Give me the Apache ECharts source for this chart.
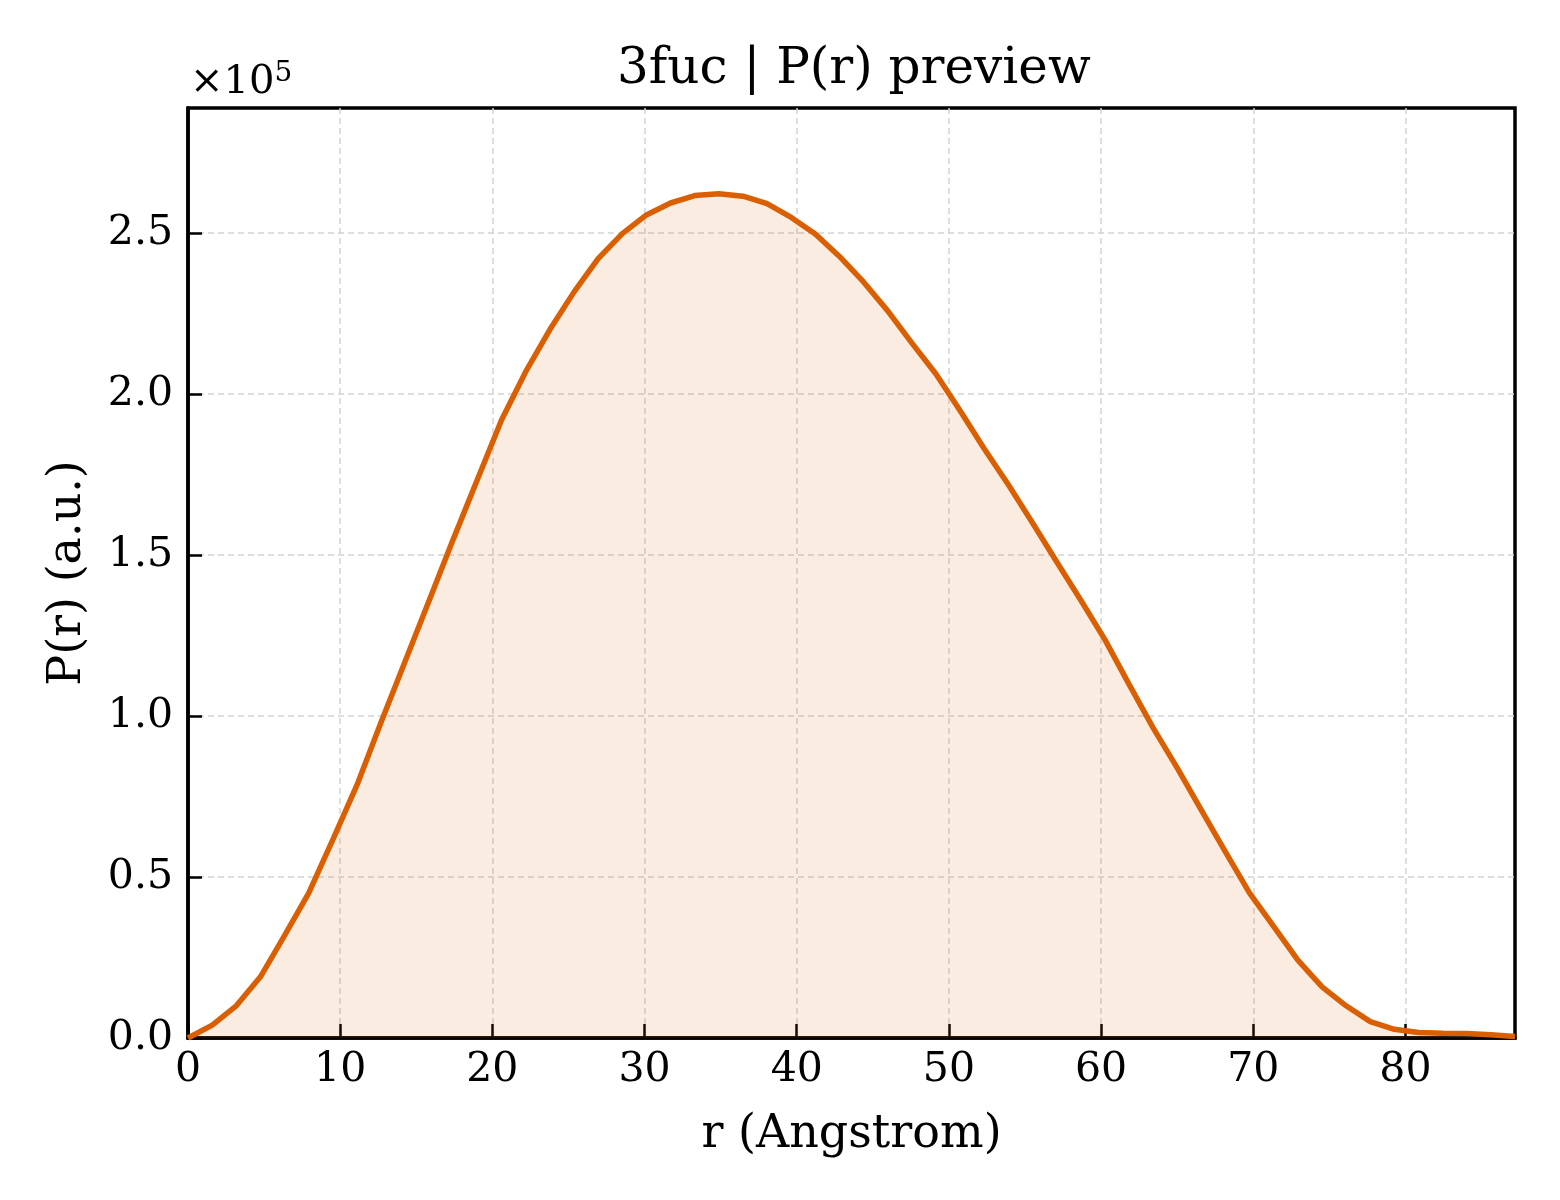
<!DOCTYPE html>
<html>
<head>
<meta charset="utf-8">
<script src="https://cdn.jsdelivr.net/npm/echarts@6/dist/echarts.min.js"></script>
<style>
  html, body { margin: 0; padding: 0; background: #fff; }
  #plot { width: 1560px; height: 1200px; }
</style>
</head>
<body>
<div id="plot"></div>
<script>
// r in Angstrom
var rVals = [0.00, 1.59, 3.17, 4.76, 6.34, 7.93, 9.51, 11.10, 12.68, 14.27,
  15.86, 17.44, 19.03, 20.61, 22.20, 23.78, 25.37, 26.95, 28.54, 30.12,
  31.71, 33.30, 34.88, 36.47, 38.05, 39.64, 41.22, 42.81, 44.39, 45.98,
  47.57, 49.15, 50.74, 52.32, 53.91, 55.49, 57.08, 58.66, 60.25, 61.84,
  63.42, 65.01, 66.59, 68.18, 69.76, 71.35, 72.93, 74.52, 76.10, 77.69,
  79.27, 80.86, 82.44, 84.03, 85.61, 87.20];

// P(r), arbitrary units
var pVals = [0, 4000, 10000, 19000, 31800, 45000, 61500, 78500, 98000, 117000,
  136000, 155000, 173600, 192000, 207000, 220000, 231700, 242000, 249800, 255600,
  259300, 261600, 262200, 261400, 259100, 254800, 249700, 242700, 234800, 225800,
  215800, 206200, 194800, 183000, 171800, 160000, 147900, 136000, 123700, 109800,
  96300, 83800, 70800, 57700, 45000, 34600, 24200, 15900, 10000, 5100,
  2700, 1700, 1500, 1400, 1000, 500];

var yTicks = ['0.0', '0.5', '1.0', '1.5', '2.0', '2.5'];

var serif = 'DejaVu Serif';
var points = rVals.map(function (r, i) { return [r, pVals[i]]; });

var myPlot = echarts.init(document.getElementById('plot'));
var option = {
  animation: false,
  backgroundColor: '#ffffff',
  title: {
    text: '3fuc | P(r) preview',
    left: 612,
    top: 40,
    textStyle: { fontFamily: serif, fontSize: 50, fontWeight: 'normal', color: '#000' }
  },
  graphic: [{
    type: 'text',
    left: 190,
    top: 60,
    style: {
      text: '×10{sup|5}',
      fontFamily: serif,
      fontSize: 40,
      fill: '#000',
      rich: {
        sup: { fontFamily: serif, fontSize: 28, verticalAlign: 'top', padding: [0, 0, 18, 0] }
      }
    }
  }],
  grid: {
    left: 188,
    right: 45,
    top: 108,
    bottom: 162,
    show: true,
    borderColor: '#000',
    borderWidth: 3.5,
    backgroundColor: 'transparent'
  },
  xAxis: {
    type: 'value',
    min: 0,
    max: 87.2,
    interval: 10,
    name: 'r (Angstrom)',
    nameLocation: 'middle',
    nameGap: 74,
    nameTextStyle: { fontFamily: serif, fontSize: 46, color: '#000' },
    axisLine: { show: true, lineStyle: { color: '#000', width: 3.5 } },
    axisTick: { show: true, inside: true, length: 14, lineStyle: { color: '#000', width: 2.5 } },
    axisLabel: {
      margin: 12,
      fontFamily: serif,
      fontSize: 41,
      color: '#000',
      showMaxLabel: false
    },
    splitLine: {
      show: true,
      showMinLine: false,
      showMaxLine: false,
      lineStyle: { color: '#d4d4d4', width: 1.5, type: [6, 4] }
    }
  },
  yAxis: {
    type: 'value',
    min: 0,
    max: 288800,
    interval: 50000,
    name: 'P(r) (a.u.)',
    nameLocation: 'middle',
    nameGap: 97,
    nameRotate: 90,
    nameTextStyle: { fontFamily: serif, fontSize: 46, color: '#000' },
    axisLine: { show: true, lineStyle: { color: '#000', width: 3.5 } },
    axisTick: { show: true, inside: true, length: 14, lineStyle: { color: '#000', width: 2.5 } },
    axisLabel: {
      margin: 15,
      fontFamily: serif,
      fontSize: 41,
      color: '#000',
      showMaxLabel: false,
      formatter: function (v) {
        var k = Math.round(v / 50000);
        return (k * 50000 === v && yTicks[k] !== undefined) ? yTicks[k] : '';
      }
    },
    splitLine: {
      show: true,
      showMinLine: false,
      showMaxLine: false,
      lineStyle: { color: '#d4d4d4', width: 1.5, type: [6, 4] }
    }
  },
  series: [{
    type: 'line',
    data: points,
    showSymbol: false,
    symbol: 'none',
    lineStyle: { color: '#D95F02', width: 5.5 },
    areaStyle: { color: '#D95F02', opacity: 0.12 },
    z: 3
  }]
};
option && myPlot.setOption(option);
</script>
</body>
</html>
